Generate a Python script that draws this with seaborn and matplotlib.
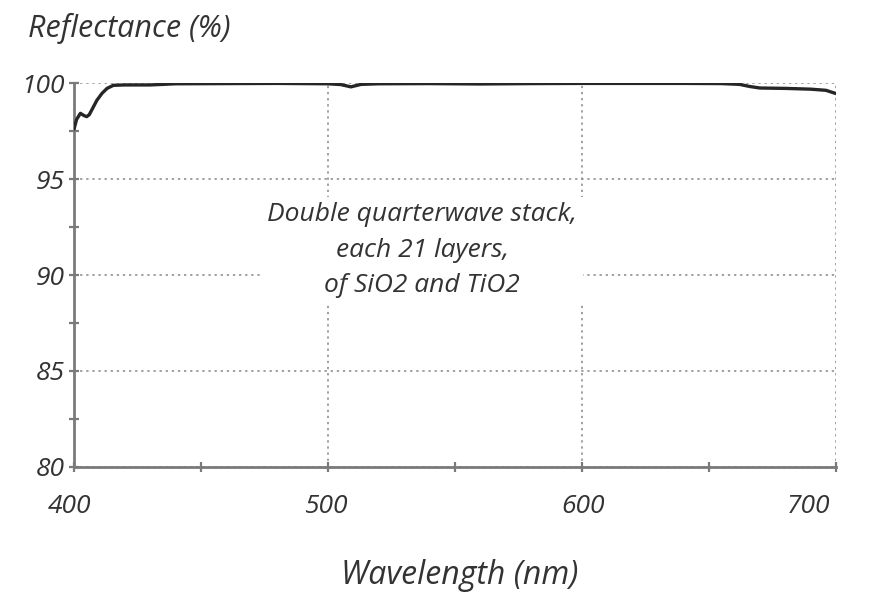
import matplotlib
matplotlib.use("Agg")
import matplotlib.pyplot as plt
import matplotlib.transforms as mtransforms
import seaborn as sns
import pandas as pd
from matplotlib.ticker import MultipleLocator

wavelength = [400, 401, 402.5, 404, 405, 406, 407, 409, 411, 413, 415.5, 420, 430, 440,
              460, 480, 500, 505, 509, 513, 520, 540, 560, 580, 600, 620, 640, 655, 662,
              666, 670, 680, 690, 696, 700]
reflectance = [97.6, 98.1, 98.42, 98.3, 98.25, 98.35, 98.6, 99.1, 99.46, 99.72, 99.88, 99.9,
               99.9, 99.96, 99.97, 99.98, 99.96, 99.92, 99.8, 99.93, 99.96, 99.97, 99.95,
               99.97, 99.98, 99.98, 99.98, 99.97, 99.93, 99.82, 99.74, 99.72, 99.68,
               99.62, 99.45]

x_ticks = [400, 500, 600, 700]
y_ticks = [80, 85, 90, 95, 100]

sns.set_theme(style="white")
fam = ["Open Sans", "DejaVu Sans"]
plt.rcParams["font.family"] = fam

df = pd.DataFrame({"Wavelength": wavelength, "Reflectance": reflectance})

fig = plt.figure(figsize=(8.75, 5.93), dpi=100)
ax = fig.add_axes([0.0846, 0.2125, 0.8709, 0.6475])

sns.lineplot(data=df, x="Wavelength", y="Reflectance", ax=ax, color="#262626",
             linewidth=2.4, zorder=3)

ax.set_xlim(400, 700)
ax.set_ylim(80, 100)
ax.set_xticks(x_ticks)
ax.set_yticks(y_ticks)
ax.xaxis.set_minor_locator(MultipleLocator(50))
ax.yaxis.set_minor_locator(MultipleLocator(2.5))

grid_kw = dict(color="#888888", linestyle=(0, (1.5, 2.5)), linewidth=1.1)
ax.grid(True, which="major", **grid_kw)
ax.set_axisbelow(True)

for side in ["top", "right"]:
    ax.spines[side].set_visible(False)
for side in ["left", "bottom"]:
    ax.spines[side].set_color("#7a7a7a")
    ax.spines[side].set_linewidth(2.0)

ax.tick_params(axis="both", which="both", bottom=True, left=True, top=False, right=False)
ax.tick_params(axis="both", which="major", direction="inout", length=7, width=1.6,
               color="#7a7a7a", labelsize=19, labelcolor="#333333")
ax.tick_params(axis="both", which="minor", direction="inout", length=7, width=1.6,
               color="#7a7a7a")
ax.tick_params(axis="x", which="major", pad=16)
ax.tick_params(axis="y", which="major", pad=3)
for lab in ax.get_xticklabels() + ax.get_yticklabels():
    lab.set_fontstyle("italic")
xlabs = ax.get_xticklabels()
shifts = [-4, -2, 1, -28]
for lab, s in zip(xlabs, shifts):
    lab.set_transform(lab.get_transform() +
                      mtransforms.ScaledTranslation(s / 100, 0, fig.dpi_scale_trans))

ax.set_xlabel("")
ax.set_ylabel("")

fig.text(0.032, 0.952, "Reflectance (%)", fontsize=22, style="italic",
         color="#333333", ha="left", va="center")
fig.text(0.525, 0.03, "Wavelength (nm)", fontsize=23, style="italic",
         color="#333333", ha="center", va="center")

ax.text(537, 91.3, "Double quarterwave stack,\neach 21 layers,\nof SiO2 and TiO2",
        fontsize=19, style="italic", color="#333333", ha="center", va="center",
        linespacing=1.55, zorder=2,
        bbox=dict(facecolor="white", edgecolor="none", pad=4))

fig.savefig("out.png", dpi=100)
